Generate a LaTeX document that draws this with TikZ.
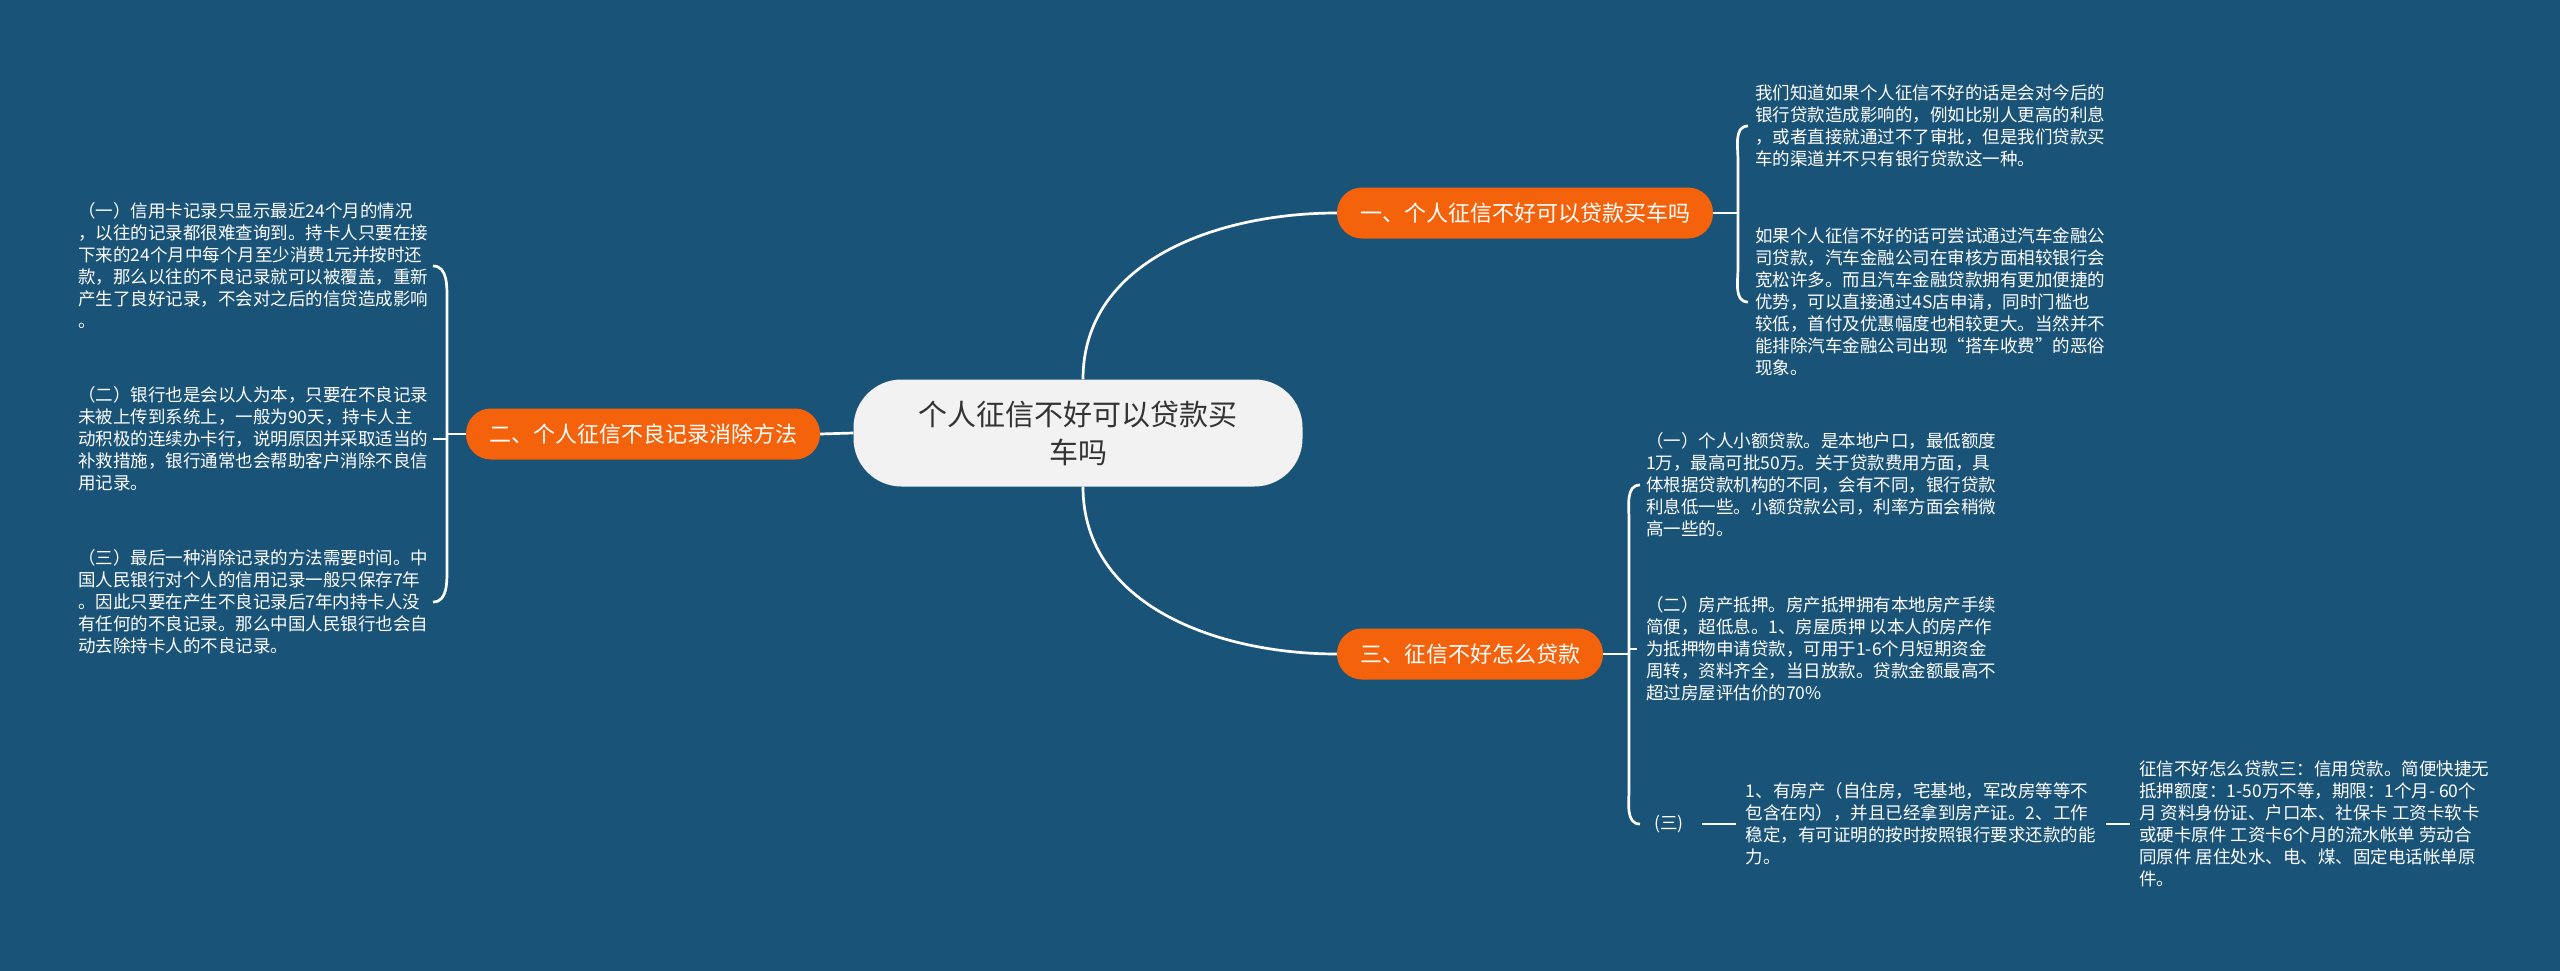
\documentclass[tikz,border=0pt]{standalone}
\usepackage{fontspec}
\setmainfont{Noto Sans CJK SC}
\usetikzlibrary{positioning,calc}
\definecolor{ZxSea}{HTML}{1A5378}
\definecolor{ZxOrange}{HTML}{F5620C}
\definecolor{ZxPaper}{HTML}{F2F2F2}
\definecolor{ZxInk}{HTML}{333333}
\tikzset{
  zxroot/.style={
    fill=ZxPaper,
    text=ZxInk,
    rounded corners=48pt,
    minimum width=449pt,
    minimum height=107pt,
    align=center,
    font=\fontsize{29}{38}\selectfont
  },
  zxbranch/.style={
    fill=ZxOrange,
    text=white,
    rounded corners=25pt,
    minimum height=51pt,
    inner xsep=23pt,
    font=\fontsize{22}{26}\selectfont
  },
  zxleaf/.style={
    text=white,
    align=left,
    inner sep=0pt,
    font=\fontsize{17.5}{22}\selectfont
  },
  zxlink/.style={line width=2.7pt,draw=white}
}

\begin{document}
\begin{tikzpicture}[x=1pt,y=-1pt]
  \fill[ZxSea] (0,0) rectangle (2560,971);
  \useasboundingbox (0,0) rectangle (2560,971);
  \node[zxroot] (root) at (1078,433) {个人征信不好可以贷款买\\车吗};
  \node[zxbranch] (b1) at (1525,213) {一、个人征信不好可以贷款买车吗};
  \node[zxbranch] (b2) at (643,434) {二、个人征信不良记录消除方法};
  \node[zxbranch] (b3) at (1470,654) {三、征信不好怎么贷款};
  % branch one
  \node[zxleaf,anchor=west] (r1) at (1755,126) {我们知道如果个人征信不好的话是会对今后的\\银行贷款造成影响的，例如比别人更高的利息\\，或者直接就通过不了审批，但是我们贷款买\\车的渠道并不只有银行贷款这一种。};
  \node[zxleaf,anchor=west] (r2) at (1755,302) {如果个人征信不好的话可尝试通过汽车金融公\\司贷款，汽车金融公司在审核方面相较银行会\\宽松许多。而且汽车金融贷款拥有更加便捷的\\优势，可以直接通过4S店申请，同时门槛也\\较低，首付及优惠幅度也相较更大。当然并不\\能排除汽车金融公司出现“搭车收费”的恶俗\\现象。};
  % branch two
  \node[zxleaf,anchor=west] (l1) at (78,266) {（一）信用卡记录只显示最近24个月的情况\\，以往的记录都很难查询到。持卡人只要在接\\下来的24个月中每个月至少消费1元并按时还\\款，那么以往的不良记录就可以被覆盖，重新\\产生了良好记录，不会对之后的信贷造成影响\\。};
  \node[zxleaf,anchor=west] (l2) at (78,439) {（二）银行也是会以人为本，只要在不良记录\\未被上传到系统上，一般为90天，持卡人主\\动积极的连续办卡行，说明原因并采取适当的\\补救措施，银行通常也会帮助客户消除不良信\\用记录。};
  \node[zxleaf,anchor=west] (l3) at (78,602) {（三）最后一种消除记录的方法需要时间。中\\国人民银行对个人的信用记录一般只保存7年\\。因此只要在产生不良记录后7年内持卡人没\\有任何的不良记录。那么中国人民银行也会自\\动去除持卡人的不良记录。};
  % branch three
  \node[zxleaf,anchor=west] (t1) at (1646,485) {（一）个人小额贷款。是本地户口，最低额度\\1万，最高可批50万。关于贷款费用方面，具\\体根据贷款机构的不同，会有不同，银行贷款\\利息低一些。小额贷款公司，利率方面会稍微\\高一些的。};
  \node[zxleaf,anchor=west] (t2) at (1646,649) {（二）房产抵押。房产抵押拥有本地房产手续\\简便，超低息。1、房屋质押 以本人的房产作\\为抵押物申请贷款，可用于1-6个月短期资金\\周转，资料齐全，当日放款。贷款金额最高不\\超过房屋评估价的70\%};
  \node[zxleaf,anchor=west] (t3) at (1654,824) {(三)};
  \node[zxleaf,right=62pt of t3] (t3a) {1、有房产（自住房，宅基地，军改房等等不\\包含在内），并且已经拿到房产证。2、工作\\稳定，有可证明的按时按照银行要求还款的能\\力。};
  \node[zxleaf,right=43pt of t3a] (t3b) {征信不好怎么贷款三：信用贷款。简便快捷无\\抵押额度：1-50万不等，期限：1个月- 60个\\月 资料身份证、户口本、社保卡 工资卡软卡\\或硬卡原件 工资卡6个月的流水帐单 劳动合\\同原件 居住处水、电、煤、固定电话帐单原\\件。};
  \coordinate (k1) at (1738,213);
  \coordinate (k2) at (447,434);
  \coordinate (k3) at (1629,654);
  \draw[zxlink] ([xshift=5pt]root.north) to[out=90,in=180] (b1.west);
  \draw[zxlink] (root.west) -- (b2.east);
  \draw[zxlink] ([xshift=5pt]root.south) to[out=-90,in=180] (b3.west);
  \draw[zxlink] (b1.east) -- (k1);
  \draw[zxlink] ($(k1 |- r1.west)+(10,0)$) to[out=180,in=90] ($(k1 |- r1.west)+(0,35)$) -- ($(k1 |- r2.west)+(0,-35)$) to[out=-90,in=180] ($(k1 |- r2.west)+(10,0)$);
  \draw[zxlink] (b2.west) -- (k2);
  \draw[zxlink] ($(k2 |- l1.east)+(-14,0)$) to[out=0,in=90] ($(k2 |- l1.east)+(0,35)$) -- ($(k2 |- l3.east)+(0,-35)$) to[out=-90,in=0] ($(k2 |- l3.east)+(-14,0)$);
  \draw[zxlink] ($(k2 |- l2.east)+(-14,0)$) -- (k2 |- l2.east);
  \draw[zxlink] (b3.east) -- (k3);
  \draw[zxlink] ($(k3 |- t1.west)+(11,0)$) to[out=180,in=90] ($(k3 |- t1.west)+(0,35)$) -- ($(k3 |- t3.west)+(0,-35)$) to[out=-90,in=180] ($(k3 |- t3.west)+(11,0)$);
  \draw[zxlink] (k3 |- t2.west) -- ($(k3 |- t2.west)+(8,0)$);
  \draw[zxlink] ($(t3.east)+(18,0)$) -- ($(t3a.west)+(-10,0)$);
  \draw[zxlink] ($(t3a.east)+(10,0)$) -- ($(t3b.west)+(-9,0)$);
\end{tikzpicture}
\end{document}
